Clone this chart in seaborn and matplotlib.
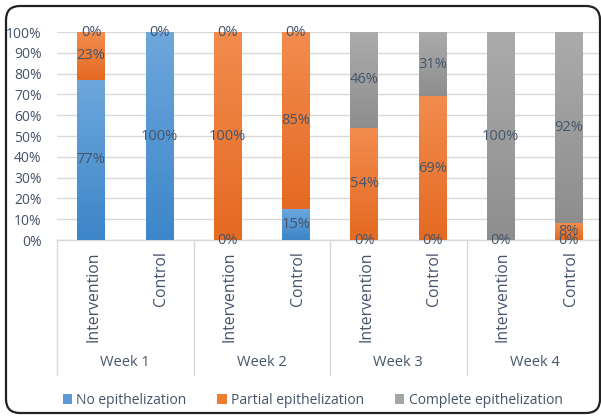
import numpy as np
import pandas as pd
import matplotlib
matplotlib.use("Agg")
import matplotlib.pyplot as plt
import seaborn as sns
from matplotlib.patches import FancyBboxPatch, Patch
from matplotlib.transforms import IdentityTransform
from matplotlib.colors import to_rgb

# ---------------- data ----------------
weeks = ["Week 1", "Week 2", "Week 3", "Week 4"]
groups = ["Intervention", "Control"]
series_names = ["No epithelization", "Partial epithelization", "Complete epithelization"]
no_epi = [77, 100, 0, 15, 0, 0, 0, 0]
partial_epi = [23, 0, 100, 85, 54, 69, 0, 8]
complete_epi = [0, 0, 0, 0, 46, 31, 100, 92]
y_ticks = [0, 10, 20, 30, 40, 50, 60, 70, 80, 90, 100]

colors = ["#5B9BD5", "#ED7D31", "#A5A5A5"]
grad_top = ["#6DA7DC", "#F28C4E", "#ABABAB"]
grad_bot = ["#3D86C8", "#E56A22", "#8E8E8E"]
text_color = "#44546A"
grid_color = "#D9D9D9"

cats = [f"{w}|{g}" for w in weeks for g in groups]
no_a = np.array(no_epi, float)
pa_a = np.array(partial_epi, float)
co_a = np.array(complete_epi, float)
df = pd.DataFrame({
    "cat": cats,
    "cum1": no_a,
    "cum2": no_a + pa_a,
    "cum3": no_a + pa_a + co_a,
})

plt.rcParams["font.family"] = ["Open Sans", "DejaVu Sans"]
fig = plt.figure(figsize=(6.01, 4.18), dpi=100)
ax = fig.add_axes([57 / 601, (418 - 240) / 418, 546 / 601, 208 / 418])

# stacked bars drawn as overlapping cumulative totals
for col, c in [("cum3", colors[2]), ("cum2", colors[1]), ("cum1", colors[0])]:
    sns.barplot(data=df, x="cat", y=col, order=cats, color=c, saturation=1,
                width=0.4, errorbar=None, ax=ax, zorder=3)

# gradient fill per visible segment (geometry from seaborn's bars)
bars = ax.patches[-len(cats):]
for i, bar in enumerate(bars):
    x0, w = bar.get_x(), bar.get_width()
    bottoms = [0, no_a[i], no_a[i] + pa_a[i]]
    vals = [no_a[i], pa_a[i], co_a[i]]
    for k, (b, v) in enumerate(zip(bottoms, vals)):
        if v <= 0:
            continue
        t = np.linspace(0, 1, 64)[:, None]
        ct, cb = np.array(to_rgb(grad_top[k])), np.array(to_rgb(grad_bot[k]))
        img = (ct[None, None, :] * (1 - t[..., None]) + cb[None, None, :] * t[..., None])
        ax.imshow(img, extent=(x0, x0 + w, b, b + v), origin="upper",
                  aspect="auto", zorder=4, interpolation="bilinear")

ax.set_xlim(-0.5, 7.5)
ax.set_ylim(0, 100)
ax.set_xlabel("")
ax.set_ylabel("")
ax.set_xticks([])
ax.set_yticks(y_ticks)
ax.set_yticklabels([f"{v}%" for v in y_ticks], color=text_color, fontsize=10)
ax.tick_params(axis="y", length=0, pad=11)
ax.grid(axis="y", color=grid_color, lw=1, zorder=0)
ax.set_axisbelow(True)
for s in ["left", "top", "right"]:
    ax.spines[s].set_visible(False)
ax.spines["bottom"].set_color(grid_color)
ax.spines["bottom"].set_linewidth(1)

# data labels at segment centres
for i in range(len(cats)):
    bottoms = [0, no_a[i], no_a[i] + pa_a[i]]
    vals = [no_a[i], pa_a[i], co_a[i]]
    seen = set()
    for b, v in zip(bottoms, vals):
        key = (b + v / 2, int(v))
        if key in seen:
            continue
        seen.add(key)
        ax.text(i, b + v / 2, f"{int(v)}%", ha="center", va="center",
                color=text_color, fontsize=10.5, zorder=6, clip_on=False)

# multi-level category axis
px = 100 / 208.0
for xb in [-0.5, 1.5, 3.5, 5.5, 7.5]:
    ax.plot([xb, xb], [0, -135 * px], color=grid_color, lw=1, clip_on=False)
for i, c in enumerate(cats):
    g = c.split("|")[1]
    ax.text(i + 0.03, -11 * px, g, rotation=90, ha="center", va="top",
            color=text_color, fontsize=11.3, clip_on=False)
for j, w in enumerate(weeks):
    ax.text(2 * j + 0.5, -123 * px, w, ha="center", va="center",
            color=text_color, fontsize=10.5, clip_on=False)

handles = [Patch(facecolor=c, edgecolor="none") for c in colors]
fig.legend(handles, series_names, loc="center", bbox_to_anchor=(0.52, 0.043),
           ncol=3, frameon=False, handlelength=0.7, handleheight=0.7,
           handletextpad=0.3, columnspacing=2.2, labelcolor=text_color,
           fontsize=10)

frame = FancyBboxPatch((6, 5), 594, 407, boxstyle="round,pad=0,rounding_size=14",
                       transform=IdentityTransform(), fill=False, lw=1.6,
                       ec="#222222")
fig.add_artist(frame)

fig.savefig("out.png", dpi=100)
